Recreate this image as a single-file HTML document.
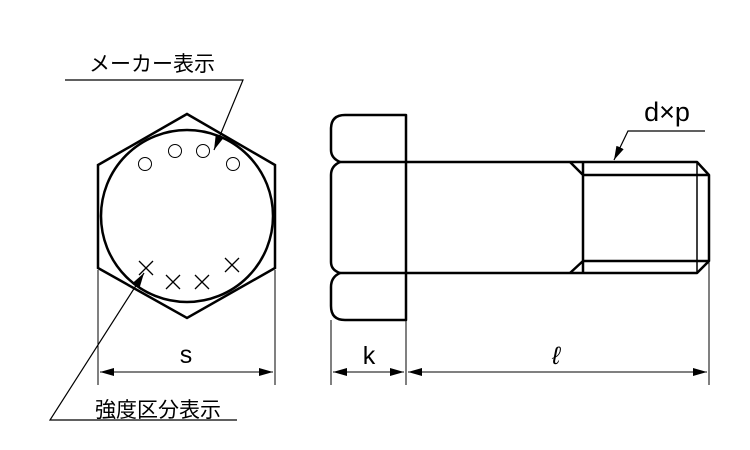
<!DOCTYPE html>
<html><head><meta charset="utf-8"><style>
html,body{margin:0;padding:0;background:#fff;}
svg{display:block}
text{font-family:"Liberation Sans","Noto Sans CJK JP",sans-serif;fill:#000}
</style></head><body>
<svg width="750" height="450" viewBox="0 0 750 450" xmlns="http://www.w3.org/2000/svg">
<defs>
<marker id="a" markerWidth="14" markerHeight="8" refX="14" refY="4" orient="auto" markerUnits="userSpaceOnUse">
<path d="M0,0 L14,4 L0,8 Z" fill="#000"/></marker>
</defs>
<g fill="none" stroke="#000">
<polygon points="187,114 275,165 275,268 187,318 98,268 98,165" stroke-width="2.5"/>
<circle cx="187" cy="216" r="86" stroke-width="2.5"/>
<g stroke-width="1">
<circle cx="145" cy="164" r="6.5"/><circle cx="175" cy="151" r="6.5"/>
<circle cx="203" cy="151" r="6.5"/><circle cx="233" cy="164" r="6.5"/>
</g>
<g stroke-width="1.3">
<path d="M139,261 l14,14 M153,261 l-14,14"/>
<path d="M166,275 l14,14 M180,275 l-14,14"/>
<path d="M195,275 l14,14 M209,275 l-14,14"/>
<path d="M225,258 l14,14 M239,258 l-14,14"/>
</g>
<g stroke-width="1.2">
<path d="M65,80 H243 L214,150" marker-end="url(#a)"/>
<path d="M237,420 H50 L144,273" marker-end="url(#a)"/>
<path d="M705,131 H628 L614,160" marker-end="url(#a)"/>
</g>
<g stroke-width="1">
<path d="M98,270 V385 M275,270 V385 M331,320 V385 M406,320 V385 M709,261 V385"/>
<path d="M333,372 H404" marker-end="url(#a)"/>
<path d="M404,372 H333" marker-end="url(#a)"/>
<path d="M408,372 H707" marker-end="url(#a)"/>
<path d="M707,372 H408" marker-end="url(#a)"/>
<path d="M100,372 H273" marker-end="url(#a)"/>
<path d="M273,372 H100" marker-end="url(#a)"/>
</g>
<g stroke-width="2.5" stroke-linejoin="round">
<path d="M406,115 H345 Q331,115 331,129 V150 Q331,158 340,162 Q331,166 331,175 V262 Q331,270 340,273 Q331,277 331,287 V306 Q331,320 345,320 H406 Z"/>
<path d="M340,162 H697 L709,175 V261 L697,273 H340"/>
<path d="M570,162 L583,175 H709 M570,273 L583,261 H709 M583,162 V273"/>
<path d="M697,162 V273" stroke-width="1.5"/>
</g>
</g>
<text x="89" y="71" font-size="21">メーカー表示</text>
<text x="95" y="417" font-size="21">強度区分表示</text>
<text x="186" y="363" font-size="25" text-anchor="middle">s</text>
<text x="369" y="364" font-size="25" text-anchor="middle">k</text>
<text x="556" y="364" font-size="25" font-style="italic" text-anchor="middle">ℓ</text>
<text x="667" y="121" font-size="27" text-anchor="middle">d×p</text>
</svg>
</body></html>
